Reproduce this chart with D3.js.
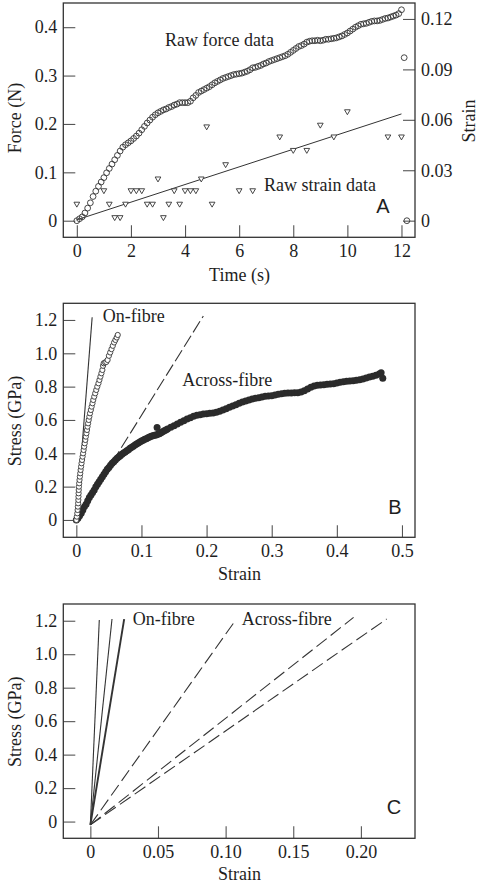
<!DOCTYPE html>
<html>
<head>
<meta charset="utf-8">
<script src="https://cdn.jsdelivr.net/npm/d3@7"></script>
<style>
  body { margin: 0; background: #fff; }
  svg { display: block; }
  svg text { font-family: "Liberation Serif", "DejaVu Serif", serif; }
  svg text.letter { font-family: "Liberation Sans", "DejaVu Sans", sans-serif; }
</style>
</head>
<body>
<div id="chart"></div>
<script>
// ---- panel A: raw force (circles) and raw strain (triangles) vs time
const forceTime = [
  0.0, 0.1, 0.2, 0.3, 0.4, 0.5, 0.6, 0.7, 0.8, 0.9,
  1.0, 1.1, 1.2, 1.3, 1.4, 1.5, 1.6, 1.7, 1.8, 1.9,
  2.0, 2.1, 2.2, 2.3, 2.4, 2.5, 2.6, 2.7, 2.8, 2.9,
  3.0, 3.1, 3.2, 3.3, 3.4, 3.5, 3.6, 3.7, 3.8, 3.9,
  4.0, 4.1, 4.2, 4.3, 4.4, 4.5, 4.6, 4.7, 4.8, 4.9,
  5.0, 5.1, 5.2, 5.3, 5.4, 5.5, 5.6, 5.7, 5.8, 5.9,
  6.0, 6.1, 6.2, 6.3, 6.4, 6.5, 6.6, 6.7, 6.8, 6.9,
  7.0, 7.1, 7.2, 7.3, 7.4, 7.5, 7.6, 7.7, 7.8, 7.9,
  8.0, 8.1, 8.2, 8.3, 8.4, 8.5, 8.6, 8.7, 8.8, 8.9,
  9.0, 9.1, 9.2, 9.3, 9.4, 9.5, 9.6, 9.7, 9.8, 9.9,
  10.0, 10.1, 10.2, 10.3, 10.4, 10.5, 10.6, 10.7, 10.8, 10.9,
  11.0, 11.1, 11.2, 11.3, 11.4, 11.5, 11.6, 11.7, 11.8, 11.9,
  12.0, 12.1, 12.2
];
const forceValue = [
  0.000, 0.004, 0.008, 0.016, 0.026, 0.037, 0.050, 0.061, 0.071, 0.080,
  0.089, 0.099, 0.108, 0.117, 0.126, 0.135, 0.144, 0.152, 0.157, 0.161,
  0.165, 0.170, 0.175, 0.181, 0.188, 0.195, 0.202, 0.208, 0.214, 0.219,
  0.223, 0.226, 0.229, 0.231, 0.234, 0.236, 0.239, 0.241, 0.244, 0.244,
  0.244, 0.244, 0.247, 0.254, 0.259, 0.265, 0.268, 0.271, 0.274, 0.277,
  0.281, 0.285, 0.288, 0.291, 0.294, 0.296, 0.298, 0.300, 0.302, 0.303,
  0.304, 0.305, 0.307, 0.309, 0.312, 0.316, 0.317, 0.319, 0.321, 0.324,
  0.326, 0.329, 0.331, 0.333, 0.335, 0.337, 0.339, 0.341, 0.344, 0.348,
  0.352, 0.356, 0.360, 0.362, 0.365, 0.369, 0.371, 0.372, 0.372, 0.373,
  0.372, 0.373, 0.375, 0.375, 0.376, 0.377, 0.378, 0.380, 0.382, 0.385,
  0.388, 0.392, 0.396, 0.400, 0.403, 0.406, 0.407, 0.408, 0.410, 0.412,
  0.413, 0.413, 0.414, 0.416, 0.418, 0.419, 0.421, 0.423, 0.425, 0.428,
  0.436, 0.337, 0.000
];
const strainTime = [0, 1, 1.2, 1.4, 1.6, 1.8, 2, 2.2, 2.4, 2.6, 2.8, 3, 3.2, 3.4, 3.6, 3.8,
  4, 4.2, 4.4, 4.6, 4.8, 5, 5.5, 6, 6.5, 7.5, 8, 8.5, 9, 9.5, 10, 11.5, 12];
const strainValue = [0.010, 0.018, 0.010, 0.002, 0.002, 0.010, 0.018, 0.018, 0.018, 0.010, 0.010,
  0.025, 0.002, 0.010, 0.018, 0.010, 0.018, 0.018, 0.018, 0.025, 0.056, 0.010, 0.0335, 0.018,
  0.018, 0.050, 0.042, 0.042, 0.057, 0.050, 0.065, 0.050, 0.050];
const strainFitTime = [0, 12];
const strainFitValue = [0.0005, 0.0635];

const aTimeTicks = [0, 2, 4, 6, 8, 10, 12];
const aTimeLabels = ["0", "2", "4", "6", "8", "10", "12"];
const aForceTicks = [0, 0.1, 0.2, 0.3, 0.4];
const aForceLabels = ["0", "0.1", "0.2", "0.3", "0.4"];
const aStrainTicks = [0, 0.03, 0.06, 0.09, 0.12];
const aStrainLabels = ["0", "0.03", "0.06", "0.09", "0.12"];

// ---- panel B: stress-strain curves, [strain, stress]
const onFibreB = [
  [0, 0], [0.0008, 0.02], [0.0015, 0.04], [0.002, 0.06], [0.0024, 0.08], [0.0028, 0.10],
  [0.0031, 0.12], [0.0033, 0.14], [0.0035, 0.16], [0.0037, 0.18], [0.0040, 0.20], [0.0044, 0.22],
  [0.0049, 0.24], [0.0054, 0.26], [0.0060, 0.28], [0.0066, 0.30], [0.0073, 0.32], [0.0080, 0.34],
  [0.0088, 0.36], [0.0096, 0.38], [0.0104, 0.40], [0.0112, 0.42], [0.0120, 0.44], [0.0129, 0.46],
  [0.0138, 0.48], [0.0146, 0.50], [0.0155, 0.52], [0.0164, 0.54], [0.0172, 0.56], [0.0181, 0.58],
  [0.0190, 0.60], [0.0200, 0.62], [0.0210, 0.64], [0.0223, 0.66], [0.0235, 0.68], [0.0248, 0.70],
  [0.0260, 0.72], [0.0275, 0.74], [0.0290, 0.76], [0.0306, 0.78], [0.0322, 0.80], [0.0340, 0.82],
  [0.0355, 0.84], [0.0370, 0.86], [0.0385, 0.88], [0.0400, 0.90], [0.0410, 0.925], [0.0420, 0.94],
  [0.0440, 0.945], [0.0460, 0.948], [0.0480, 0.96], [0.0500, 0.985], [0.0520, 1.005], [0.0540, 1.025],
  [0.0560, 1.045], [0.0580, 1.065], [0.0600, 1.080], [0.0620, 1.095], [0.0636, 1.11]
];
const acrossFibreB = [
  [0, 0], [0.0025, 0.01], [0.005, 0.025], [0.0075, 0.04], [0.01, 0.06], [0.0125, 0.08],
  [0.015, 0.095], [0.0175, 0.115], [0.02, 0.135], [0.0225, 0.15], [0.025, 0.165], [0.0275, 0.18],
  [0.03, 0.20], [0.0325, 0.215], [0.035, 0.23], [0.0375, 0.245], [0.04, 0.26], [0.0425, 0.275],
  [0.045, 0.29], [0.0475, 0.305], [0.05, 0.315], [0.0525, 0.328], [0.055, 0.34], [0.0575, 0.35],
  [0.06, 0.36], [0.0625, 0.37], [0.065, 0.378], [0.0675, 0.386], [0.07, 0.395], [0.0725, 0.402],
  [0.075, 0.408], [0.0775, 0.415], [0.08, 0.422], [0.0825, 0.43], [0.085, 0.436], [0.0875, 0.442],
  [0.09, 0.45], [0.0925, 0.456], [0.095, 0.462], [0.0975, 0.468], [0.10, 0.474], [0.1025, 0.478],
  [0.105, 0.484], [0.1075, 0.488], [0.11, 0.494], [0.1125, 0.498], [0.115, 0.502], [0.1175, 0.505],
  [0.12, 0.508], [0.1225, 0.51], [0.124, 0.555], [0.125, 0.514], [0.1275, 0.518], [0.13, 0.524],
  [0.1325, 0.53], [0.135, 0.536], [0.1375, 0.54], [0.14, 0.546], [0.145, 0.556], [0.15, 0.566],
  [0.155, 0.576], [0.16, 0.586], [0.165, 0.596], [0.17, 0.606], [0.175, 0.614], [0.18, 0.622],
  [0.185, 0.628], [0.19, 0.632], [0.195, 0.636], [0.20, 0.638], [0.205, 0.64], [0.21, 0.642],
  [0.215, 0.646], [0.22, 0.652], [0.225, 0.66], [0.23, 0.668], [0.235, 0.676], [0.24, 0.684],
  [0.245, 0.692], [0.25, 0.70], [0.255, 0.708], [0.26, 0.714], [0.265, 0.72], [0.27, 0.726],
  [0.275, 0.73], [0.28, 0.734], [0.285, 0.738], [0.29, 0.742], [0.295, 0.744], [0.30, 0.746],
  [0.305, 0.75], [0.31, 0.754], [0.315, 0.758], [0.32, 0.76], [0.325, 0.762], [0.33, 0.762],
  [0.335, 0.763], [0.34, 0.764], [0.345, 0.768], [0.35, 0.776], [0.355, 0.786], [0.36, 0.796],
  [0.365, 0.804], [0.37, 0.808], [0.375, 0.81], [0.38, 0.812], [0.385, 0.814], [0.39, 0.816],
  [0.395, 0.818], [0.40, 0.822], [0.405, 0.826], [0.41, 0.83], [0.415, 0.832], [0.42, 0.834],
  [0.425, 0.836], [0.43, 0.838], [0.435, 0.842], [0.44, 0.846], [0.445, 0.852], [0.45, 0.858],
  [0.455, 0.862], [0.46, 0.868], [0.465, 0.876], [0.468, 0.884], [0.4705, 0.85]
];
const onFitB = [[0, 0], [0.0243, 1.216]];
const acrossFitB = [[0, 0], [0.195, 1.224]];

const bStrainTicks = [0, 0.1, 0.2, 0.3, 0.4, 0.5];
const bStrainLabels = ["0", "0.1", "0.2", "0.3", "0.4", "0.5"];
const stressTicks = [0, 0.2, 0.4, 0.6, 0.8, 1.0, 1.2];
const stressLabels = ["0", "0.2", "0.4", "0.6", "0.8", "1.0", "1.2"];

// ---- panel C: fitted moduli, lines from a common start
const cStart = [0, -0.02];
const cOnStrain = [0.0066, 0.016, 0.025];
const cOnStress = [1.205, 1.21, 1.21];
const cAcrossStrain = [0.1075, 0.1946, 0.219];
const cAcrossStress = [1.205, 1.22, 1.21];

const cStrainTicks = [0, 0.05, 0.10, 0.15, 0.20];
const cStrainLabels = ["0", "0.05", "0.10", "0.15", "0.20"];

const width = 480;
const height = 884;
const ink = "#1e1e1e";
const fontSize = 18;

const svg = d3.select("#chart")
  .append("svg")
  .attr("width", width)
  .attr("height", height)
  .attr("viewBox", [0, 0, width, height]);

const left = 63.3, right = 415;

function frame(top, bottom) {
  svg.append("rect")
    .attr("x", left).attr("y", top)
    .attr("width", right - left).attr("height", bottom - top)
    .attr("fill", "none")
    .attr("stroke", "#333")
    .attr("stroke-width", 1.3);
}

function styleAxis(g) {
  g.attr("font-family", null).attr("font-size", null);
  g.select(".domain").remove();
  g.selectAll(".tick line").attr("stroke", "#555").attr("stroke-width", 1.1);
  g.selectAll(".tick text")
    .attr("fill", ink)
    .style("font-size", fontSize + "px");
}

function axes(x, y, top, bottom, xt, xl, yt, yl) {
  svg.append("g")
    .attr("transform", `translate(0,${bottom})`)
    .call(d3.axisBottom(x).tickValues(xt).tickFormat((d, i) => xl[i]).tickSize(-12).tickPadding(7))
    .call(styleAxis);
  svg.append("g")
    .attr("transform", `translate(${left},0)`)
    .call(d3.axisLeft(y).tickValues(yt).tickFormat((d, i) => yl[i]).tickSize(-12).tickPadding(6))
    .call(styleAxis);
}

function text(str, x, y, opts = {}) {
  const t = svg.append("text")
    .attr("x", x).attr("y", y)
    .attr("fill", ink)
    .attr("text-anchor", opts.anchor || "start")
    .style("font-size", (opts.size || fontSize) + "px")
    .text(str);
  if (opts.cls) t.attr("class", opts.cls);
  if (opts.rotate) {
    t.attr("x", 0).attr("y", 0)
      .attr("transform", `translate(${x},${y}) rotate(-90)`);
  }
  return t;
}

// ================= Panel A =================
{
  const top = 3, bottom = 237.3;
  const x = d3.scaleLinear().domain([-0.5, 12.5]).range([left, right]);
  const yF = d3.scaleLinear().domain([-0.0343, 0.45]).range([bottom, top]);
  const yS = d3.scaleLinear().domain([-0.0099, 0.1295]).range([bottom, top]);

  axes(x, yF, top, bottom, aTimeTicks, aTimeLabels, aForceTicks, aForceLabels);
  svg.append("g")
    .attr("transform", `translate(${right},0)`)
    .call(d3.axisRight(yS).tickValues(aStrainTicks).tickFormat((d, i) => aStrainLabels[i]).tickSize(-12).tickPadding(6))
    .call(styleAxis);

  const fit = strainFitTime.map((t, i) => [t, strainFitValue[i]]);
  svg.append("path")
    .datum(fit)
    .attr("fill", "none")
    .attr("stroke", "#333")
    .attr("stroke-width", 1)
    .attr("d", d3.line().x(d => x(d[0])).y(d => yS(d[1])));

  const tri = d3.symbol().type(d3.symbolTriangle).size(14);
  svg.append("g")
    .selectAll("path")
    .data(strainTime.map((t, i) => [t, strainValue[i]]))
    .join("path")
    .attr("d", tri)
    .attr("transform", d => `translate(${x(d[0])},${yS(d[1])}) rotate(180)`)
    .attr("fill", "#fff")
    .attr("stroke", "#333")
    .attr("stroke-width", 0.9);

  svg.append("g")
    .selectAll("circle")
    .data(forceTime.map((t, i) => [t, forceValue[i]]))
    .join("circle")
    .attr("cx", d => x(d[0]))
    .attr("cy", d => yF(d[1]))
    .attr("r", 2.9)
    .attr("fill", "none")
    .attr("stroke", "#333")
    .attr("stroke-width", 0.9);

  frame(top, bottom);

  text("Raw force data", 165, 46);
  text("Raw strain data", 264, 191);
  text("A", 383, 213, { cls: "letter", size: 20, anchor: "middle" });
  text("Time (s)", 239.5, 280.5, { anchor: "middle" });
  text("Force (N)", 21, 118, { anchor: "middle", rotate: true });
  text("Strain", 475, 121, { anchor: "middle", rotate: true });
}

// ================= Panel B =================
{
  const top = 303.3, bottom = 537.3;
  const x = d3.scaleLinear().domain([-0.02, 0.52]).range([left, right]);
  const y = d3.scaleLinear().domain([-0.104, 1.3]).range([bottom, top]);

  axes(x, y, top, bottom, bStrainTicks, bStrainLabels, stressTicks, stressLabels);

  const line = d3.line().x(d => x(d[0])).y(d => y(d[1]));
  svg.append("path").datum(onFitB)
    .attr("fill", "none").attr("stroke", "#333").attr("stroke-width", 1.1)
    .attr("d", line);
  svg.append("path").datum(acrossFitB)
    .attr("fill", "none").attr("stroke", "#333").attr("stroke-width", 1.1)
    .attr("stroke-dasharray", "13,4")
    .attr("d", line);

  svg.append("g")
    .selectAll("circle")
    .data(acrossFibreB)
    .join("circle")
    .attr("cx", d => x(d[0]))
    .attr("cy", d => y(d[1]))
    .attr("r", 3.5)
    .attr("fill", "#2b2b2b");

  svg.append("g")
    .selectAll("circle")
    .data(onFibreB)
    .join("circle")
    .attr("cx", d => x(d[0]))
    .attr("cy", d => y(d[1]))
    .attr("r", 2.6)
    .attr("fill", "#fff")
    .attr("stroke", "#333")
    .attr("stroke-width", 0.9);

  frame(top, bottom);

  text("On-fibre", 102.7, 322.3);
  text("Across-fibre", 182.3, 386);
  text("B", 395, 513.5, { cls: "letter", size: 20, anchor: "middle" });
  text("Strain", 239.5, 580, { anchor: "middle" });
  text("Stress (GPa)", 21, 421, { anchor: "middle", rotate: true });
}

// ================= Panel C =================
{
  const top = 604, bottom = 838.3;
  const x = d3.scaleLinear().domain([-0.02, 0.24]).range([left, right]);
  const y = d3.scaleLinear().domain([-0.1, 1.3]).range([bottom, top]);

  axes(x, y, top, bottom, cStrainTicks, cStrainLabels, stressTicks, stressLabels);

  const line = d3.line().x(d => x(d[0])).y(d => y(d[1]));
  svg.append("g")
    .selectAll("path")
    .data(cOnStrain.map((s, i) => [cStart, [s, cOnStress[i]]]))
    .join("path")
    .attr("fill", "none")
    .attr("stroke", "#333")
    .attr("stroke-width", (d, i) => (i === 2 ? 1.9 : 1.1))
    .attr("d", line);

  svg.append("g")
    .selectAll("path")
    .data(cAcrossStrain.map((s, i) => [cStart, [s, cAcrossStress[i]]]))
    .join("path")
    .attr("fill", "none")
    .attr("stroke", "#333")
    .attr("stroke-width", 1.1)
    .attr("stroke-dasharray", "13,5")
    .attr("d", line);

  frame(top, bottom);

  text("On-fibre", 132.7, 625);
  text("Across-fibre", 241.7, 625);
  text("C", 394, 813.5, { cls: "letter", size: 20, anchor: "middle" });
  text("Strain", 239.5, 880, { anchor: "middle" });
  text("Stress (GPa)", 21, 721.7, { anchor: "middle", rotate: true });
}
</script>
</body>
</html>
